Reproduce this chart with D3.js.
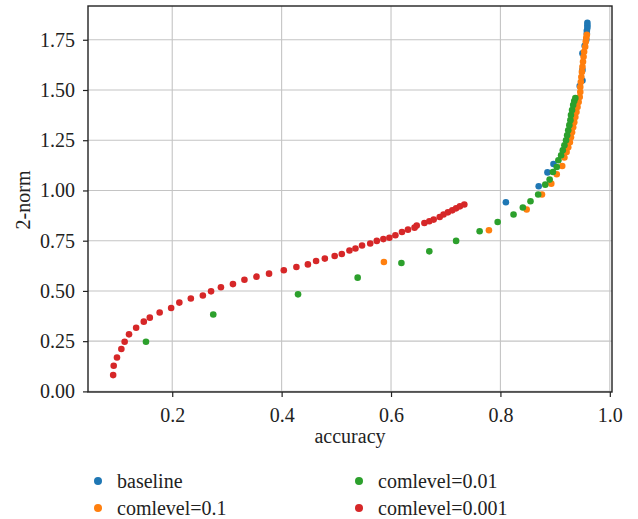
<!DOCTYPE html>
<html>
<head>
<meta charset="utf-8">
<script src="https://cdn.jsdelivr.net/npm/d3@7"></script>
<style>
    body { margin: 0; background: #fff; }
</style>
</head>
<body>
<svg></svg>
<script>
// points, [accuracy, 2-norm]
let baseline = [
    [0.810, 0.941], [0.870, 1.021], [0.886, 1.090], [0.897, 1.132],
    [0.915, 1.200], [0.925, 1.280], [0.933, 1.360], [0.940, 1.440],
    [0.945, 1.520], [0.950, 1.547], [0.950, 1.600], [0.950, 1.682],
    [0.954, 1.720], [0.957, 1.750], [0.958, 1.780], [0.958, 1.795],
    [0.959, 1.810], [0.959, 1.822], [0.959, 1.835]
];
let comlevel01 = [
    [0.587, 0.644], [0.779, 0.802], [0.848, 0.905], [0.876, 0.980],
    [0.893, 1.034], [0.903, 1.081], [0.913, 1.122], [0.917, 1.164],
    [0.921, 1.192], [0.924, 1.215], [0.927, 1.240], [0.929, 1.265],
    [0.931, 1.290], [0.933, 1.315], [0.935, 1.340], [0.937, 1.365],
    [0.939, 1.390], [0.941, 1.415], [0.943, 1.440], [0.945, 1.465],
    [0.946, 1.490], [0.946, 1.515], [0.947, 1.540], [0.948, 1.565],
    [0.949, 1.590], [0.950, 1.615], [0.951, 1.640], [0.952, 1.665],
    [0.953, 1.690], [0.955, 1.715], [0.956, 1.740], [0.957, 1.760],
    [0.958, 1.775]
];
let comlevel001 = [
    [0.152, 0.247], [0.275, 0.383], [0.430, 0.483], [0.539, 0.566],
    [0.619, 0.639], [0.670, 0.697], [0.719, 0.749], [0.762, 0.797],
    [0.795, 0.843], [0.824, 0.880], [0.841, 0.915], [0.855, 0.946],
    [0.869, 0.980], [0.882, 1.029], [0.890, 1.054], [0.896, 1.092],
    [0.903, 1.117], [0.906, 1.150], [0.911, 1.175], [0.914, 1.200],
    [0.917, 1.225], [0.920, 1.250], [0.922, 1.275], [0.924, 1.300],
    [0.926, 1.325], [0.928, 1.350], [0.929, 1.375], [0.931, 1.400],
    [0.933, 1.425], [0.935, 1.445], [0.937, 1.460]
];
let comlevel0001 = [
    [0.092, 0.081], [0.093, 0.128], [0.099, 0.169], [0.107, 0.211],
    [0.113, 0.247], [0.121, 0.284], [0.134, 0.317], [0.148, 0.347],
    [0.159, 0.367], [0.177, 0.393], [0.198, 0.415], [0.213, 0.442],
    [0.234, 0.462], [0.256, 0.477], [0.271, 0.498], [0.289, 0.518],
    [0.311, 0.534], [0.332, 0.556], [0.354, 0.571], [0.377, 0.586],
    [0.404, 0.603], [0.427, 0.619], [0.448, 0.632], [0.463, 0.649],
    [0.479, 0.661], [0.497, 0.674], [0.510, 0.684], [0.524, 0.701],
    [0.535, 0.711], [0.547, 0.726], [0.562, 0.736], [0.574, 0.749],
    [0.586, 0.758], [0.597, 0.765], [0.608, 0.777], [0.620, 0.793],
    [0.631, 0.805], [0.643, 0.815], [0.647, 0.825], [0.661, 0.838],
    [0.670, 0.847], [0.678, 0.855], [0.689, 0.868], [0.696, 0.880],
    [0.704, 0.891], [0.712, 0.901], [0.719, 0.911], [0.726, 0.921],
    [0.734, 0.930]
];

let seriesNames = ['baseline', 'comlevel=0.1', 'comlevel=0.01', 'comlevel=0.001'];
let seriesData = [baseline, comlevel01, comlevel001, comlevel0001];
let seriesColors = ['#1f77b4', '#ff7f0e', '#2ca02c', '#d62728'];

let xTicks = [0.2, 0.4, 0.6, 0.8, 1.0];
let yTicks = [0.00, 0.25, 0.50, 0.75, 1.00, 1.25, 1.50, 1.75];

let width = 638;
let height = 519;
let plot = { left: 88, right: 612, top: 6, bottom: 392 };
let serif = "'Liberation Serif', 'Times New Roman', serif";
let fontSize = 20;

let svg = d3.select('svg')
    .attr('width', width)
    .attr('height', height);

let x = d3.scaleLinear()
    .domain([0.046, 1.004])
    .range([plot.left, plot.right]);
let y = d3.scaleLinear()
    .domain([-0.003, 1.918])
    .range([plot.bottom, plot.top]);

// grid lines
let grid = svg.append('g');
grid.selectAll('line.vgrid')
    .data(xTicks)
    .enter()
    .append('line')
    .attr('x1', d => x(d)).attr('x2', d => x(d))
    .attr('y1', plot.top).attr('y2', plot.bottom)
    .style('stroke', '#c4c4c4')
    .style('stroke-width', 1.1);
grid.selectAll('line.hgrid')
    .data(yTicks)
    .enter()
    .append('line')
    .attr('x1', plot.left).attr('x2', plot.right)
    .attr('y1', d => y(d)).attr('y2', d => y(d))
    .style('stroke', '#c4c4c4')
    .style('stroke-width', 1.1);

// axes
let xAxis = svg.append('g')
    .attr('transform', `translate(0, ${plot.bottom})`)
    .call(d3.axisBottom(x).tickValues(xTicks).tickFormat(d3.format('.1f')).tickSize(5).tickPadding(11));
let yAxis = svg.append('g')
    .attr('transform', `translate(${plot.left}, 0)`)
    .call(d3.axisLeft(y).tickValues(yTicks).tickFormat(d3.format('.2f')).tickSize(5).tickPadding(8));

[xAxis, yAxis].forEach(ax => {
    ax.attr('font-family', serif).attr('font-size', fontSize);
    ax.select('.domain').remove();
    ax.selectAll('line').style('stroke', '#222').style('stroke-width', 1.2);
    ax.selectAll('text').style('fill', '#222');
});

// points, baseline first so the others sit on top
seriesData.forEach((pts, i) => {
    svg.append('g')
        .selectAll('circle')
        .data(pts)
        .enter()
        .append('circle')
        .attr('cx', d => x(d[0]))
        .attr('cy', d => y(d[1]))
        .attr('r', 3.3)
        .style('fill', seriesColors[i]);
});

// frame
svg.append('rect')
    .attr('x', plot.left).attr('y', plot.top)
    .attr('width', plot.right - plot.left)
    .attr('height', plot.bottom - plot.top)
    .style('fill', 'none')
    .style('stroke', '#222')
    .style('stroke-width', 1.4);

// axis labels
svg.append('text')
    .attr('x', (plot.left + plot.right) / 2)
    .attr('y', 443)
    .attr('text-anchor', 'middle')
    .attr('font-family', serif)
    .attr('font-size', fontSize)
    .style('fill', '#222')
    .text('accuracy');
svg.append('text')
    .attr('transform', 'translate(30, 200) rotate(-90)')
    .attr('text-anchor', 'middle')
    .attr('font-family', serif)
    .attr('font-size', fontSize)
    .style('fill', '#222')
    .text('2-norm');

// legend below the chart, two columns
let legend = svg.selectAll('g.legend-item')
    .data(seriesNames)
    .enter()
    .append('g')
    .classed('legend-item', true)
    .attr('transform', (d, i) => `translate(${i < 2 ? 98 : 359}, ${i % 2 === 0 ? 481 : 508})`);
legend.append('circle')
    .attr('r', 4)
    .style('fill', (d, i) => seriesColors[i]);
legend.append('text')
    .attr('x', 19)
    .attr('dy', '0.33em')
    .attr('font-family', serif)
    .attr('font-size', fontSize)
    .style('fill', '#222')
    .text(d => d);
</script>
</body>
</html>
